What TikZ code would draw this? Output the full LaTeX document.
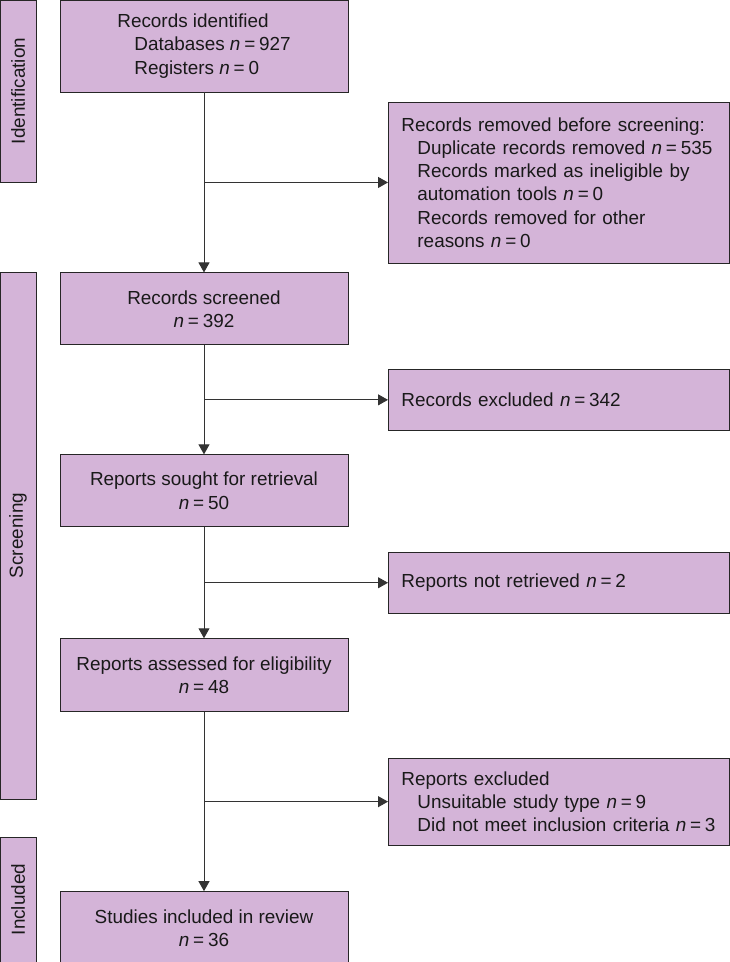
\documentclass[tikz,border=0pt]{standalone}
\usepackage{fontspec}
\setmainfont{Liberation Sans}
\usepackage{tikz}
\usetikzlibrary{arrows.meta, positioning, calc}
\definecolor{lilac}{HTML}{D4B4D8}
\newcommand{\nval}[1]{\textit{n}\hspace{0.2em}=\hspace{0.2em}#1}

\begin{document}
\begin{tikzpicture}[x=1pt, y=1pt,
  box/.style={draw=black!85, fill=lilac, line width=0.9pt, text=black!90,
    font=\fontsize{18.9}{23.2}\selectfont},
  mainbox/.style={box, minimum width=288pt, align=center, inner sep=0pt},
  sidebox/.style={box, minimum width=341pt, text width=315pt, inner xsep=13pt, inner ysep=0pt, align=left},
  stage/.style={box, rotate=90, minimum height=36pt, inner sep=0pt},
  flow/.style={->, draw=black!80, line width=1pt},
  >={Triangle[length=10pt, width=11pt]}]
\useasboundingbox (0,0) rectangle (730,-962);
\node[stage, minimum width=182pt] (stid) at (18,-91) {Identification};
\node[stage, minimum width=527pt] (stscr) at (18,-535.5) {Screening};
\node[stage, minimum width=125pt] (stinc) at (18,-899.5) {Included};
\node[mainbox, minimum height=92pt, align=left] (idrec) at (204,-46)
  {Records identified\\ \hspace*{17pt}Databases \nval{927}\\ \hspace*{17pt}Registers \nval{0}};
\node[mainbox, minimum height=72pt, below=180pt of idrec] (scr) {Records screened\\ \nval{392}};
\node[mainbox, minimum height=72pt, below=109pt of scr] (sought) {Reports sought for retrieval\\ \nval{50}};
\node[mainbox, minimum height=73pt, below=111pt of sought] (assess) {Reports assessed for eligibility\\ \nval{48}};
\node[mainbox, minimum height=73pt, below=179pt of assess] (incl) {Studies included in review\\ \nval{36}};
\coordinate (b1) at ($(idrec.south)!0.5!(scr.north)$);
\coordinate (b2) at ($(scr.south)!0.5!(sought.north)$);
\coordinate (b3) at ($(sought.south)!0.5!(assess.north)$);
\coordinate (b4) at ($(assess.south)!0.5!(incl.north)$);
\node[sidebox, minimum height=161pt, right=184pt of b1] (removed)
  {Records removed before screening:\\ \hspace*{16pt}Duplicate records removed \nval{535}\\
   \hspace*{16pt}Records marked as ineligible by\\ \hspace*{16pt}automation tools \nval{0}\\
   \hspace*{16pt}Records removed for other\\ \hspace*{16pt}reasons \nval{0}};
\node[sidebox, minimum height=61pt, right=184pt of b2] (excl) {Records excluded \nval{342}};
\node[sidebox, minimum height=61pt, right=184pt of b3] (notret) {Reports not retrieved \nval{2}};
\node[sidebox, minimum height=87pt, right=184pt of b4] (exrep)
  {Reports excluded\\ \hspace*{16pt}Unsuitable study type \nval{9}\\
   \hspace*{16pt}Did not meet inclusion criteria \nval{3}};
\draw[flow] (idrec) -- (scr);
\draw[flow] (scr) -- (sought);
\draw[flow] (sought) -- (assess);
\draw[flow] (assess) -- (incl);
\draw[flow] (b1) -- (removed);
\draw[flow] (b2) -- (excl);
\draw[flow] (b3) -- (notret);
\draw[flow] (b4) -- (exrep);
\end{tikzpicture}
\end{document}
